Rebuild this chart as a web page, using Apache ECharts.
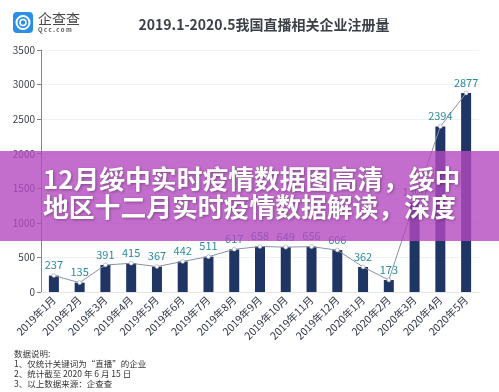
<!DOCTYPE html>
<html>
<head>
<meta charset="utf-8">
<script src="https://cdn.jsdelivr.net/npm/echarts@6/dist/echarts.min.js"></script>
<style>
html,body{margin:0;padding:0;background:#fff;}
#chart{width:499px;height:392px;}
</style>
</head>
<body>
<div id="chart"></div>
<script>
const categories = ['2019年1月','2019年2月','2019年3月','2019年4月','2019年5月','2019年6月','2019年7月','2019年8月','2019年9月','2019年10月','2019年11月','2019年12月','2020年1月','2020年2月','2020年3月','2020年4月','2020年5月'];
const registrations = [237,135,391,415,367,442,511,617,658,649,656,606,362,173,1300,2394,2877];
const yTicks = [0,500,1000,1500,2000,2500,3000,3500];
const chartTitle = '2019.1-2020.5我国直播相关企业注册量';
const bannerLines = ['12月绥中实时疫情数据图高清，绥中','地区十二月实时疫情数据解读，深度'];
const notes = ['数据说明:','1、仅统计关键词为“直播”的企业','2、统计截至 2020 年 6 月 15 日','3、以上数据来源：企查查'];

const chart = echarts.init(document.getElementById('chart'), null, {renderer:'canvas'});
const FONT = '"Noto Sans CJK SC","Noto Sans",sans-serif';

const graphics = [
  {type:'rect', shape:{x:13,y:12,width:20,height:21,r:4}, style:{fill:'#2b8fe6'}, z:10},
  {type:'circle', shape:{cx:23,cy:22.5,r:6.5}, style:{fill:'none',stroke:'#fff',lineWidth:2}, z:11},
  {type:'circle', shape:{cx:23,cy:22.5,r:3}, style:{fill:'none',stroke:'#fff',lineWidth:1.6}, z:11},
  {type:'text', x:38, y:12, style:{text:'企查查', font:'14px '+FONT, fill:'#4a4a4a'}, z:10},
  {type:'text', x:38, y:27, style:{text:'Q c c . c o m', font:'bold 6px '+FONT, fill:'#555'}, z:10},
  {type:'text', x:264, y:25, style:{text:chartTitle, font:'bold 14px '+FONT, fill:'#3a3f48', align:'center', verticalAlign:'middle'}, z:10}
];
notes.forEach((t,i)=>{
  graphics.push({type:'text', x:14, y:354+i*10, style:{text:t, font:'8.5px '+FONT, fill:'#333', verticalAlign:'middle'}, z:10});
});
graphics.push({type:'rect', shape:{x:0,y:151,width:499,height:90}, style:{fill:'rgba(180,72,192,0.8)'}, z:100});
bannerLines.forEach((t,i)=>{
  graphics.push({type:'text', x:43, y:179+i*28.5, style:{text:t, font:'bold 25.8px '+FONT, fill:'#fff', verticalAlign:'middle', textShadowColor:'rgba(0,0,0,0.35)', textShadowBlur:3, textShadowOffsetX:1, textShadowOffsetY:1}, z:101});
});

chart.setOption({
  animation:false,
  grid:{left:41, right:20, top:50, bottom:100},
  xAxis:{
    type:'category', data:categories,
    axisLine:{show:true, lineStyle:{color:'#e3e6ec'}},
    axisTick:{show:false},
    axisLabel:{interval:0, rotate:45, margin:6, fontSize:10.5, color:'#2d3646', fontFamily:FONT}
  },
  yAxis:{
    type:'value', min:yTicks[0], max:yTicks[yTicks.length-1], interval:500,
    axisLine:{show:true, lineStyle:{color:'#7d8798'}},
    axisTick:{show:true, length:4, lineStyle:{color:'#7d8798'}},
    axisLabel:{fontSize:10, color:'#3a3f48', margin:6, fontFamily:FONT, formatter:v=>String(v)},
    splitLine:{lineStyle:{color:'#eef1f5'}}
  },
  series:[
    {type:'bar', data:registrations, barWidth:10, itemStyle:{color:'#1f3564'},
     label:{show:true, position:'top', distance:5, fontSize:11, color:'#2a8b9b', fontFamily:FONT}, z:2},
    {type:'line', data:registrations, symbol:'circle', symbolSize:4,
     lineStyle:{color:'#8891a3', width:1}, itemStyle:{color:'#ffffff', borderColor:'#8891a3', borderWidth:0.5}, z:3}
  ],
  graphic:graphics
});
</script>
</body>
</html>
